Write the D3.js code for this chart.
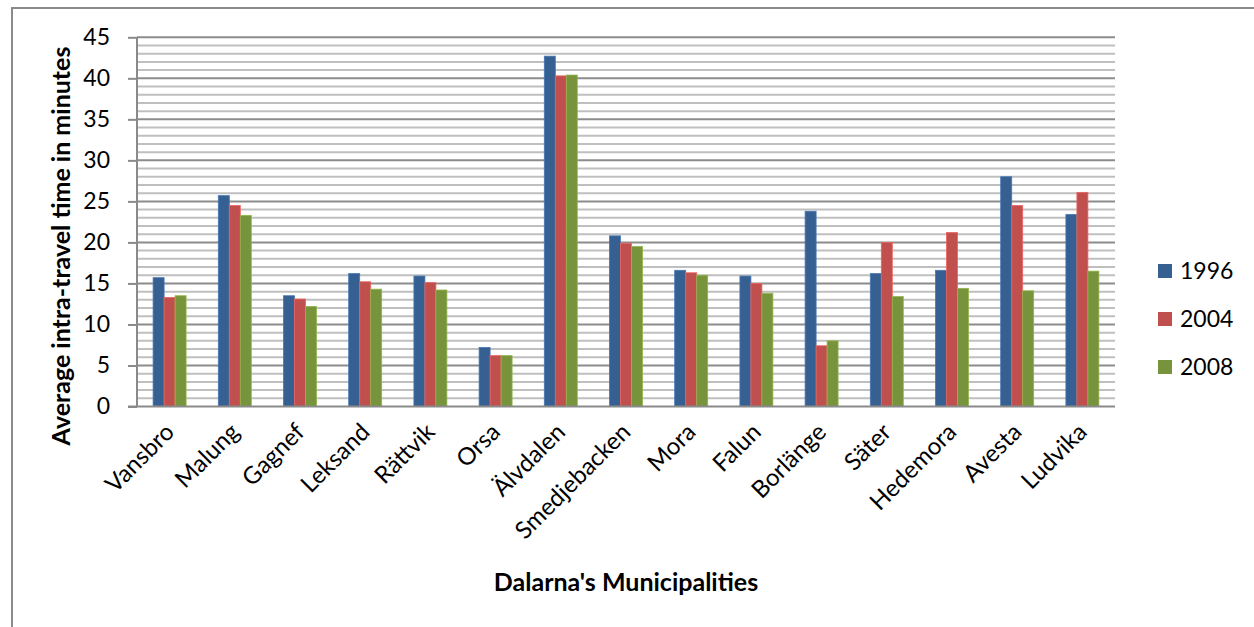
<!DOCTYPE html>
<html>
<head>
<meta charset="utf-8">
<script src="https://cdn.jsdelivr.net/npm/d3@7"></script>
<style>
  html, body { margin: 0; padding: 0; background: #fff; }
  svg { display: block; font-family: Lato, "Open Sans", sans-serif; }
</style>
</head>
<body>
<svg id="chart" width="1254" height="627"></svg>
<script>
// Average intra-travel time (minutes) by municipality in Dalarna
const municipalities = ["Vansbro", "Malung", "Gagnef", "Leksand", "Rättvik", "Orsa", "Älvdalen",
  "Smedjebacken", "Mora", "Falun", "Borlänge", "Säter", "Hedemora", "Avesta", "Ludvika"];
const years = ["1996", "2004", "2008"];
const values1996 = [15.7, 25.7, 13.5, 16.2, 15.9, 7.2, 42.7, 20.8, 16.6, 15.9, 23.8, 16.2, 16.6, 28.0, 23.4];
const values2004 = [13.3, 24.5, 13.1, 15.2, 15.1, 6.2, 40.3, 19.9, 16.3, 15.0, 7.4, 20.0, 21.2, 24.5, 26.1];
const values2008 = [13.5, 23.3, 12.2, 14.3, 14.2, 6.2, 40.4, 19.5, 16.0, 13.8, 8.0, 13.4, 14.4, 14.1, 16.5];
const yTicks = [0, 5, 10, 15, 20, 25, 30, 35, 40, 45];
const colors = ["#376092", "#c0504d", "#77933c"];

const series = [values1996, values2004, values2008];

const svg = d3.select("#chart");

// chart frame
svg.append("path")
  .attr("d", "M12,640 L12,8 L1270,8")
  .attr("fill", "none").attr("stroke", "#8a8a8a").attr("stroke-width", 2);

const plotLeft = 137, plotRight = 1115, plotTop = 37.3, plotBottom = 406.5;

const x = d3.scaleBand().domain(municipalities).range([plotLeft, plotRight])
  .paddingInner(0.494).paddingOuter(0.247);
const xs = d3.scaleBand().domain(years).range([0, x.bandwidth()]);
const y = d3.scaleLinear().domain([0, 45]).range([plotBottom, plotTop]);

// minor and major gridlines
const minor = d3.range(1, 46).filter(v => v % 5 !== 0);
svg.append("g").selectAll("line").data(minor).join("line")
  .attr("x1", plotLeft).attr("x2", plotRight)
  .attr("y1", d => y(d)).attr("y2", d => y(d))
  .attr("stroke", "#bfbfbf").attr("stroke-width", 2);
svg.append("g").selectAll("line").data(yTicks.filter(v => v > 0)).join("line")
  .attr("x1", plotLeft).attr("x2", plotRight)
  .attr("y1", d => y(d)).attr("y2", d => y(d))
  .attr("stroke", "#8c8c8c").attr("stroke-width", 2);

// bars
const groups = svg.append("g").selectAll("g").data(municipalities).join("g")
  .attr("transform", d => `translate(${x(d)},0)`);
groups.selectAll("rect")
  .data((d, i) => years.map((yr, k) => ({ yr, k, v: series[k][i] })))
  .join("rect")
  .attr("x", d => xs(d.yr))
  .attr("width", xs.bandwidth())
  .attr("y", d => y(d.v))
  .attr("height", d => y(0) - y(d.v))
  .attr("fill", d => colors[d.k])
  .attr("stroke", d => d3.color(colors[d.k]).brighter(0.6))
  .attr("stroke-width", 0.8);

// y axis
const yAxis = d3.axisLeft(y).tickValues(yTicks).tickSize(9).tickPadding(18);
const ya = svg.append("g").attr("transform", `translate(${plotLeft},0)`).call(yAxis);
ya.select(".domain").attr("stroke", "#8a8a8a").attr("stroke-width", 2)
  .attr("d", `M0,${plotTop}V${plotBottom}`);
ya.selectAll(".tick line").attr("stroke", "#8a8a8a").attr("stroke-width", 2);
ya.selectAll(".tick text").attr("font-size", 23).attr("fill", "#000")
  .attr("font-family", "Lato, sans-serif");

// x axis baseline
svg.append("line").attr("x1", plotLeft - 9).attr("x2", plotRight)
  .attr("y1", plotBottom).attr("y2", plotBottom)
  .attr("stroke", "#8a8a8a").attr("stroke-width", 2);

// category labels
svg.append("g").selectAll("text").data(municipalities).join("text")
  .attr("transform", d => `translate(${x(d) + x.bandwidth() / 2 + 6},${plotBottom + 27}) rotate(-45)`)
  .attr("text-anchor", "end")
  .attr("font-size", 24)
  .attr("fill", "#000")
  .text(d => d);

// axis titles
svg.append("text")
  .attr("transform", `translate(70,246) rotate(-90)`)
  .attr("text-anchor", "middle")
  .attr("font-size", 25).attr("font-weight", "bold")
  .text("Average intra-travel time in minutes");
svg.append("text")
  .attr("x", 626).attr("y", 591)
  .attr("text-anchor", "middle")
  .attr("font-size", 25).attr("font-weight", "bold")
  .text("Dalarna's Municipalities");

// legend
const legend = svg.append("g").selectAll("g").data(years).join("g")
  .attr("transform", (d, i) => `translate(1158,${264 + i * 48})`);
legend.append("rect").attr("width", 14).attr("height", 14)
  .attr("fill", (d, i) => colors[i]);
legend.append("text").attr("x", 22).attr("y", 15)
  .attr("font-size", 23).attr("fill", "#000")
  .text(d => d);
</script>
</body>
</html>
